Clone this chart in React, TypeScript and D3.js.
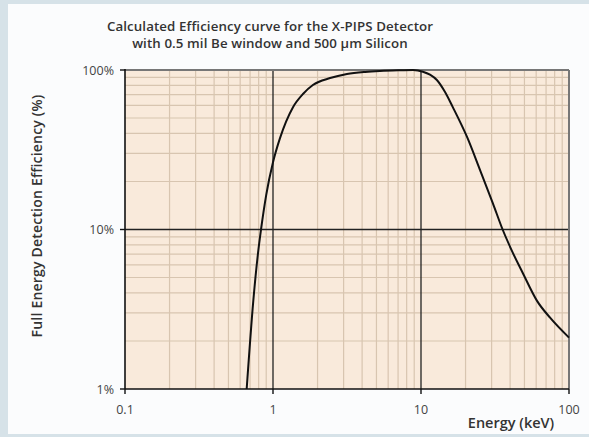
import React from "react";
import * as d3 from "d3";

const energyKeV = [0.664, 0.736, 0.796, 0.83, 0.9, 1.0, 1.115, 1.365, 1.6, 1.86, 2.43, 3.16, 4.2, 5.28, 7.0, 8.83, 10.3, 11.5, 12.8, 14.5, 16.4, 20.5, 25.1, 30.6, 35.6, 41.0, 48.9, 60.8, 74.5, 100];
const efficiencyPct = [1.0, 3.57, 7.4, 10.0, 16.5, 26.4, 37.4, 58.5, 71, 80.5, 89, 94.4, 97.3, 98.6, 99.5, 99.9, 97.6, 93.5, 86.5, 73, 58.5, 37.9, 23.5, 14.6, 10.0, 7.4, 5.3, 3.57, 2.8, 2.1];

const xTickValues = [0.1, 1, 10, 100];
const xTickLabels = ["0.1", "1", "10", "100"];
const yTickValues = [1, 10, 100];
const yTickLabels = ["1%", "10%", "100%"];

const W = 589, H = 437;
const left = 125, right = 569, top = 70, bottom = 389;

function minorValues(lo: number, hi: number) {
  const out: number[] = [];
  for (let d = lo; d < hi; d *= 10) {
    for (let k = 2; k <= 9; k++) out.push(d * k);
  }
  return out;
}

export default function App() {
  const x = d3.scaleLog().domain([0.1, 100]).range([left, right]);
  const y = d3.scaleLog().domain([1, 100]).range([bottom, top]);

  const pts = energyKeV.map((e, i) => [e, efficiencyPct[i]] as [number, number]);
  const line = d3.line<[number, number]>()
    .x(d => x(d[0]))
    .y(d => y(d[1]))
    .curve(d3.curveMonotoneX);

  const font = "'Open Sans', 'DejaVu Sans', sans-serif";
  const gridCol = "#d8c5b0";

  return (
    <svg width={W} height={H} style={{ position: "absolute", left: 0, top: 0 }}>
      <rect x={0} y={0} width={W} height={H} fill="#d6e2e8" />
      <rect x={8} y={4} width={W - 8} height={430} fill="#fbfcfd" />

      <text x={270} y={31} textAnchor="middle" fontFamily={font} fontWeight={600} fontSize={13.3} letterSpacing={0.1} fill="#333">
        Calculated Efficiency curve for the X-PIPS Detector
      </text>
      <text x={270} y={48} textAnchor="middle" fontFamily={font} fontWeight={600} fontSize={13.3} letterSpacing={0.1} fill="#333">
        with 0.5 mil Be window and 500 µm Silicon
      </text>

      <rect x={left} y={top} width={right - left} height={bottom - top} fill="#f9eadb" />

      {minorValues(0.1, 100).map((v, i) => (
        <line key={"vx" + i} x1={x(v)} x2={x(v)} y1={top} y2={bottom} stroke={gridCol} strokeWidth={1.2} />
      ))}
      {minorValues(1, 100).map((v, i) => (
        <line key={"hy" + i} x1={left} x2={right} y1={y(v)} y2={y(v)} stroke={gridCol} strokeWidth={1.2} />
      ))}
      {[1, 10].map(v => (
        <line key={"mx" + v} x1={x(v)} x2={x(v)} y1={top} y2={bottom} stroke="#222" strokeWidth={1.3} />
      ))}
      <line x1={left} x2={right} y1={y(10)} y2={y(10)} stroke="#222" strokeWidth={1.3} />

      <line x1={left} x2={right} y1={top} y2={top} stroke="#777" strokeWidth={2} />
      <line x1={right} x2={right} y1={top} y2={bottom} stroke="#777" strokeWidth={2} />
      <line x1={left} x2={left} y1={top - 1} y2={bottom} stroke="#111" strokeWidth={1.6} />
      <line x1={left} x2={right} y1={bottom} y2={bottom} stroke="#111" strokeWidth={1.6} />

      <path d={line(pts) || ""} fill="none" stroke="#111" strokeWidth={2} />

      {yTickValues.map((v, i) => (
        <g key={"yt" + v}>
          <line x1={left - 5} x2={left} y1={y(v)} y2={y(v)} stroke="#111" strokeWidth={1.4} />
          <text x={114} y={y(v) + 4.5} textAnchor="end" fontFamily={font} fontSize={12.5} fill="#444">
            {yTickLabels[i]}
          </text>
        </g>
      ))}
      {xTickValues.map((v, i) => (
        <g key={"xt" + v}>
          <line x1={x(v)} x2={x(v)} y1={bottom} y2={bottom + 5} stroke="#111" strokeWidth={1.4} />
          <text x={x(v)} y={414} textAnchor="middle" fontFamily={font} fontSize={12.5} fill="#444">
            {xTickLabels[i]}
          </text>
        </g>
      ))}

      <text x={511} y={428} textAnchor="middle" fontFamily={font} fontWeight={600} fontSize={14.5} fill="#333">
        Energy (keV)
      </text>
      <text transform="translate(42,216) rotate(-90)" textAnchor="middle" fontFamily={font} fontWeight={600} fontSize={14} letterSpacing={0.2} fill="#333">
        Full Energy Detection Efficiency (%)
      </text>
    </svg>
  );
}
